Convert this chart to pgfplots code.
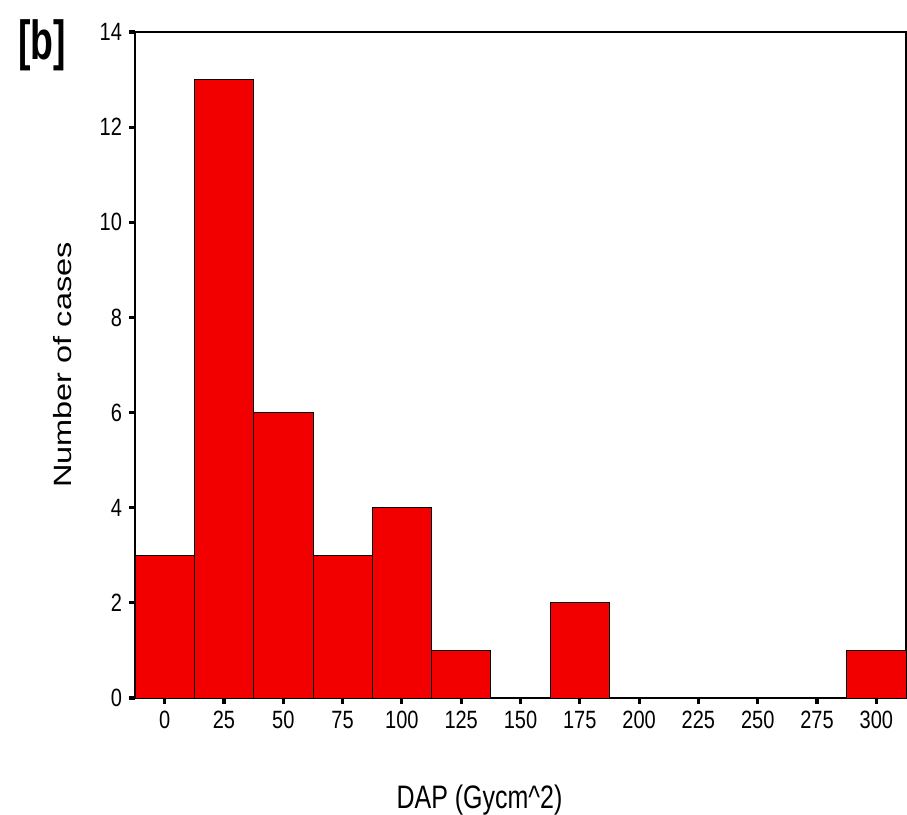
\documentclass[border=0pt]{standalone}
\usepackage{pgfplots}
\pgfplotsset{compat=1.18}
\usepackage{graphicx}
\usepackage{fontspec}
\setmainfont{Liberation Sans}
\definecolor{barred}{HTML}{F20000}
\begin{document}
\begin{tikzpicture}
\begin{axis}[
  scale only axis,
  width=385.5pt, height=333pt,
  xmin=-12.5, xmax=312.5,
  ymin=0, ymax=14,
  axis line style={line width=0.8pt},
  xtick={0,25,...,300},
  ytick={0,2,...,14},
  tick align=outside,
  tick pos=left,
  major tick length=3pt,
  every major tick/.append style={black, line width=1.6pt},
  tick label style={font=\fontsize{10}{12}\selectfont},
  /pgf/number format/assume math mode=true,
  xticklabel={\scalebox{1}[1.25]{\pgfmathprintnumber{\tick}}},
  yticklabel={\scalebox{1}[1.25]{\pgfmathprintnumber{\tick}}},
  xlabel={\scalebox{1}[1.3]{DAP (Gycm\^{}2)}},
  ylabel={\scalebox{1.3}[1]{Number of cases}},
  label style={font=\fontsize{12.5}{14}\selectfont},
  xlabel style={at={(axis description cs:0.5,0)}, anchor=center, yshift=-51pt, xshift=-20.5pt},
  ylabel style={at={(axis description cs:0,0.5)}, anchor=center, yshift=36pt},
  clip=false,
]
\addplot[ybar, bar width=25, bar shift=0pt, fill=barred, draw=black, line width=0.4pt]
  coordinates {(0,3) (25,13) (50,6) (75,3) (100,4) (125,1) (150,0) (175,2) (200,0) (225,0) (250,0) (275,0) (300,1)};
\end{axis}
\node[font=\bfseries\fontsize{22}{24}\selectfont, inner sep=0pt] at ([shift={(-46.5pt,-6.5pt)}]current axis.north west) {\scalebox{0.85}[1.25]{[b]}};
\pgfresetboundingbox
\path ([shift={(-67.5pt,-58.5pt)}]current axis.south west) rectangle ([shift={(0.5pt,16pt)}]current axis.north east);
\end{tikzpicture}
\end{document}
